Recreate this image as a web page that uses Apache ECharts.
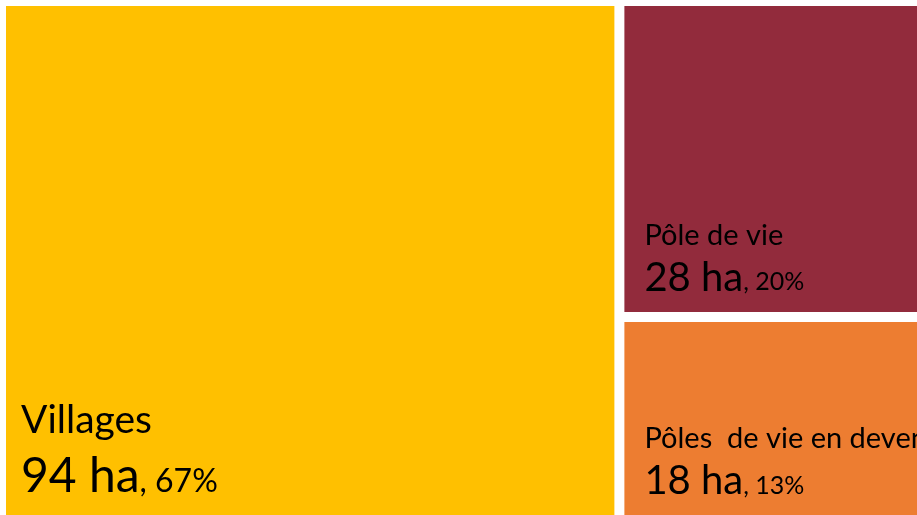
<!DOCTYPE html>
<html>
<head>
<meta charset="utf-8">
<script src="https://cdn.jsdelivr.net/npm/echarts@6/dist/echarts.min.js"></script>
<style>
  html, body { margin: 0; padding: 0; background: #ffffff; }
  #chart { width: 917px; height: 515px; }
</style>
</head>
<body>
<div id="chart"></div>
<script>
// Surface by type of settlement (hectares)
const categories = ['Villages', 'Pôle de vie', 'Pôles  de vie en devenir'];
const hectares = [94, 28, 18];
const colors = ['#FFC000', '#922B3C', '#ED7D31'];

const total = hectares.reduce((a, b) => a + b, 0);

// Label typography: the largest tile gets bigger text
const TYPE = {
  big:   { name: 39, value: 48, pct: 32, nameLine: 52, valueLine: 61, left: 10, bottom: 19 },
  small: { name: 29, value: 40, pct: 25, nameLine: 40, valueLine: 48, left: 15, bottom: 19 }
};

function labelStyle(t) {
  return {
    show: true,
    overflow: 'none',
    color: '#000',
    fontFamily: 'Lato',
    rich: {
      n: { fontFamily: 'Lato', fontSize: t.name, lineHeight: t.nameLine, color: '#000', verticalAlign: 'bottom' },
      v: { fontFamily: 'Lato', fontSize: t.value, lineHeight: t.valueLine, color: '#000', verticalAlign: 'bottom' },
      p: { fontFamily: 'Lato', fontSize: t.pct, lineHeight: t.valueLine, color: '#000', verticalAlign: 'bottom',
           padding: [0, 0, Math.round((t.value - t.pct) * 0.2), 0] }
    }
  };
}

const data = categories.map((name, i) => ({
  name: name,
  value: hectares[i],
  itemStyle: { color: colors[i], borderWidth: 0 },
  label: labelStyle(i === 0 ? TYPE.big : TYPE.small)
}));

const chart = echarts.init(document.getElementById('chart'), null, { renderer: 'canvas' });
chart.setOption({
  backgroundColor: '#ffffff',
  animation: false,
  tooltip: { show: false },
  series: [{
    type: 'treemap',
    left: 6,
    top: 6,
    width: 911,
    height: 509,
    roam: false,
    nodeClick: false,
    breadcrumb: { show: false },
    itemStyle: { gapWidth: 10, borderWidth: 0, borderColor: '#ffffff' },
    levels: [{ itemStyle: { gapWidth: 10, borderWidth: 0, borderColor: '#ffffff' } }],
    label: {
      formatter: function (p) {
        const pct = Math.round(p.value / total * 100);
        return '{n|' + p.name + '}\n{v|' + p.value + ' ha}{p|, ' + pct + '%}';
      }
    },
    // anchor each label block to the bottom-left corner of its tile
    labelLayout: function (params) {
      const t = (params.text || '').indexOf('{n|' + categories[0] + '}') >= 0 ? TYPE.big : TYPE.small;
      const r = params.rect;
      return {
        x: r.x + t.left,
        y: r.y + r.height - t.bottom - t.nameLine - t.valueLine,
        align: 'left',
        verticalAlign: 'top'
      };
    },
    data: data
  }]
});
</script>
</body>
</html>
